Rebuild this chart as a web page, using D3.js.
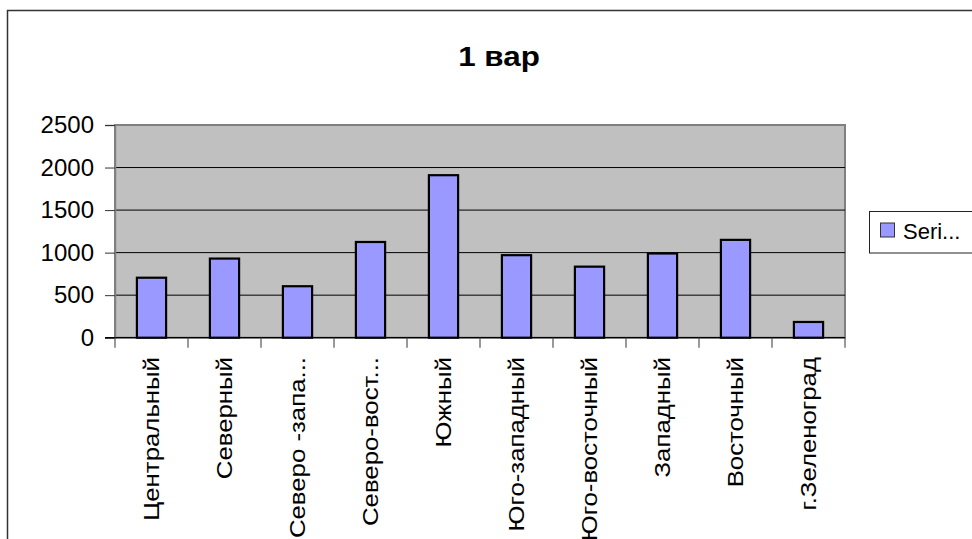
<!DOCTYPE html>
<html>
<head>
<meta charset="utf-8">
<style>
body { margin: 0; background: #fff; }
text { font-family: "Liberation Sans", Arial, sans-serif; }
</style>
</head>
<body>
<div id="chart"></div>
<script src="https://cdn.jsdelivr.net/npm/d3@7/dist/d3.min.js"></script>
<script>
// data
var districts = ["Центральный", "Северный", "Северо -запа...", "Северо-вост...", "Южный",
                 "Юго-западный", "Юго-восточный", "Западный", "Восточный", "г.Зеленоград"];
var values = [705, 930, 605, 1125, 1910, 970, 835, 990, 1150, 185];
var yTicks = [0, 500, 1000, 1500, 2000, 2500];
var seriesName = "Seri...";
var title = "1 вар";

var W = 972, H = 539;
var plot = {left: 115, right: 845, top: 125, bottom: 337.7};

var svg = d3.select("#chart").append("svg")
    .attr("width", W).attr("height", H);

// outer chart frame (runs off right/bottom like the original)
svg.append("rect")
    .attr("x", 7.5).attr("y", 10.5)
    .attr("width", W + 10).attr("height", H + 10)
    .attr("fill", "#fff").attr("stroke", "#333").attr("stroke-width", 1.5);

svg.append("text")
    .attr("transform", "translate(499,66) scale(1.12,1)")
    .attr("text-anchor", "middle")
    .style("font-size", "28px").style("font-weight", "bold")
    .text(title);

var y = d3.scaleLinear().domain([0, 2500]).range([plot.bottom, plot.top]);

// slots for ticks, narrower band for the bars
var slot = d3.scaleBand().domain(districts).range([plot.left, plot.right]).padding(0);
var x = d3.scaleBand().domain(districts).range([plot.left, plot.right])
    .paddingInner(0.6).paddingOuter(0.3);

// plot area
svg.append("rect")
    .attr("x", plot.left).attr("y", plot.top)
    .attr("width", plot.right - plot.left).attr("height", plot.bottom - plot.top)
    .attr("fill", "#c0c0c0").attr("stroke", "#808080").attr("stroke-width", 2);

// gridlines
svg.append("g").selectAll("line")
    .data(yTicks.slice(1, -1))
    .join("line")
    .attr("x1", plot.left).attr("x2", plot.right)
    .attr("y1", d => y(d)).attr("y2", d => y(d))
    .attr("stroke", "#000").attr("stroke-width", 1);

// bars
svg.append("g").selectAll("rect")
    .data(values)
    .join("rect")
    .attr("x", (d, i) => x(districts[i]))
    .attr("y", d => y(d))
    .attr("width", x.bandwidth())
    .attr("height", d => y(0) - y(d))
    .attr("fill", "#9999ff")
    .attr("stroke", "#000").attr("stroke-width", 2.2);

// y axis
var yAxis = svg.append("g")
    .attr("transform", "translate(" + plot.left + ",0)")
    .call(d3.axisLeft(y).tickValues(yTicks).tickFormat(d3.format("d")).tickSize(10).tickPadding(11));
yAxis.select(".domain").attr("stroke", "#808080").attr("stroke-width", 1.5);
yAxis.selectAll(".tick line").attr("stroke", "#333");
yAxis.selectAll(".tick text")
    .style("font-size", "24px").style("font-family", "'Liberation Sans', Arial, sans-serif")
    .attr("fill", "#000");

// x axis line + ticks at slot edges
svg.append("line")
    .attr("x1", plot.left - 10).attr("x2", plot.right)
    .attr("y1", plot.bottom).attr("y2", plot.bottom)
    .attr("stroke", "#000").attr("stroke-width", 1.2);

var edges = districts.map(d => slot(d)).concat([plot.right]);
svg.append("g").selectAll("line")
    .data(edges)
    .join("line")
    .attr("x1", d => d).attr("x2", d => d)
    .attr("y1", plot.bottom).attr("y2", plot.bottom + 10)
    .attr("stroke", "#555").attr("stroke-width", 1.2);

// rotated category labels
svg.append("g").selectAll("text")
    .data(districts)
    .join("text")
    .attr("transform", d => "translate(" + (slot(d) + slot.bandwidth() / 2) + ",357) rotate(-90) scale(1.2,1)")
    .attr("text-anchor", "end")
    .attr("dy", "0.35em")
    .style("font-size", "21.5px")
    .text(d => d);

// legend
var lg = svg.append("g");
lg.append("rect")
    .attr("x", 869.5).attr("y", 211.5).attr("width", 110).attr("height", 41.5)
    .attr("fill", "#fff").attr("stroke", "#222").attr("stroke-width", 1);
lg.append("rect")
    .attr("x", 880.5).attr("y", 223).attr("width", 14).attr("height", 14)
    .attr("fill", "#9999ff").attr("stroke", "#333").attr("stroke-width", 1);
lg.append("text")
    .attr("x", 903).attr("y", 239)
    .style("font-size", "22px")
    .text(seriesName);
</script>
</body>
</html>
